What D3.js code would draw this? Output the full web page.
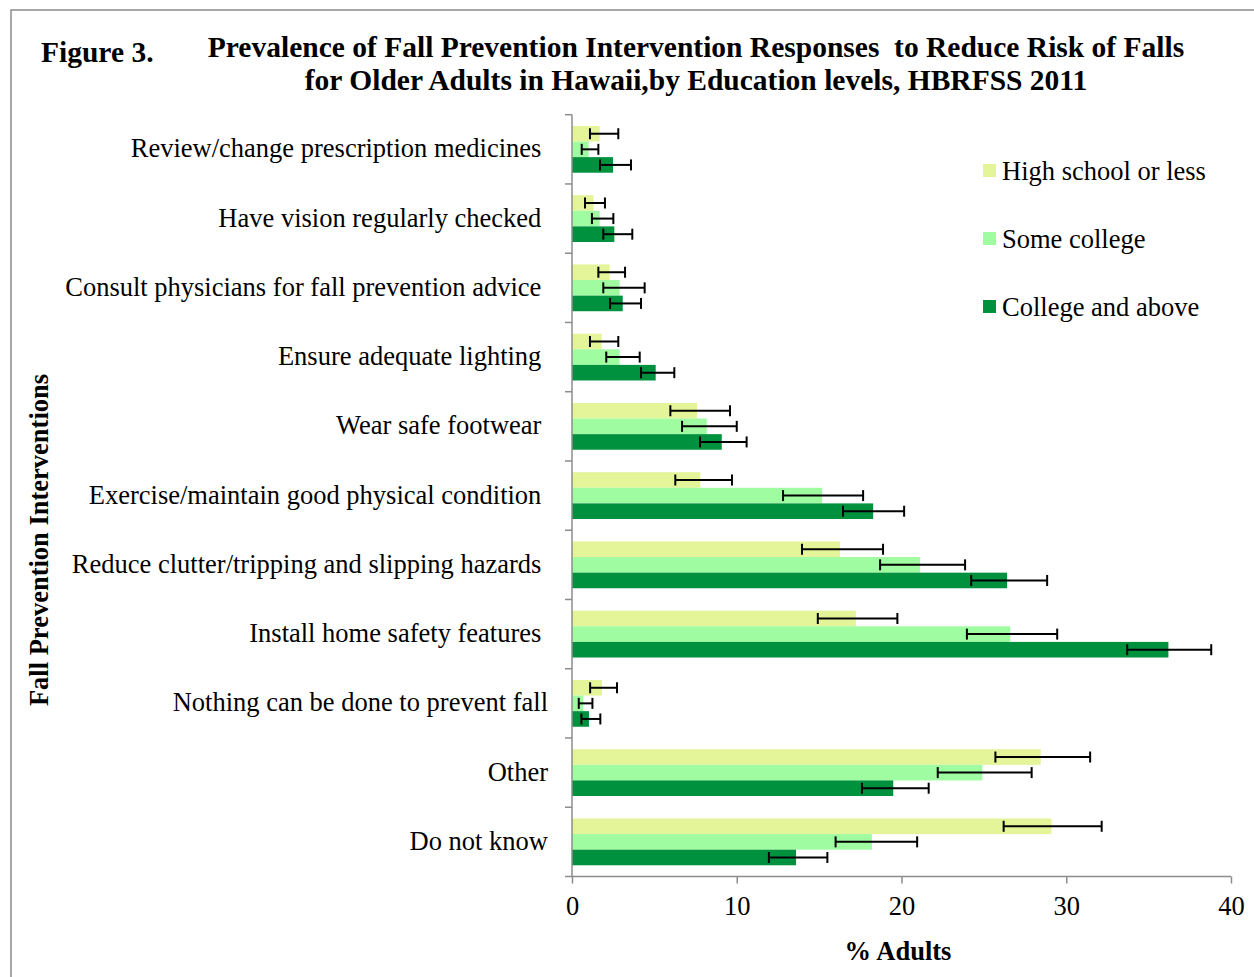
<!DOCTYPE html>
<html>
<head>
<meta charset="utf-8">
<script src="https://cdn.jsdelivr.net/npm/d3@7"></script>
<style>
  body { margin: 0; background: #fff; }
  svg text { font-family: "Liberation Serif", "Times New Roman", serif; fill: #000; }
</style>
</head>
<body>
<div id="chart"></div>
<script>
// categories (trailing space kept as in the source sheet)
var categories = [
  "Review/change prescription medicines ",
  "Have vision regularly checked ",
  "Consult physicians for fall prevention advice ",
  "Ensure adequate lighting ",
  "Wear safe footwear ",
  "Exercise/maintain good physical condition ",
  "Reduce clutter/tripping and slipping hazards ",
  "Install home safety features ",
  "Nothing can be done to prevent fall",
  "Other",
  "Do not know"
];
var series = ["High school or less", "Some college", "College and above"];
var colors = ["#e4f499", "#9ffca1", "#00913f"];

// percent of adults, per series (same order as categories)
var highSchool  = [1.68, 1.30, 2.29, 1.80, 7.59, 7.79, 16.27, 17.23, 1.82, 28.45, 29.1];
var someCollege = [1.01, 1.68, 2.89, 2.89, 8.18, 15.18, 21.13, 26.6, 0.68, 24.9, 18.2];
var collegeUp   = [2.49, 2.57, 3.08, 5.08, 9.09, 18.28, 26.41, 36.2, 1.03, 19.5, 13.6];

// 95% CI low / high
var hsLow  = [1.09, 0.79, 1.60, 1.09, 5.97, 6.27, 13.96, 14.92, 1.10, 25.7, 26.2];
var hsHigh = [2.81, 2.00, 3.22, 2.81, 9.59, 9.71, 18.88, 19.75, 2.73, 31.45, 32.15];
var scLow  = [0.59, 1.21, 1.90, 2.08, 6.68, 12.81, 18.70, 23.97, 0.41, 22.2, 16.0];
var scHigh = [1.60, 2.51, 4.41, 4.11, 10.00, 17.67, 23.86, 29.45, 1.24, 27.9, 20.95];
var cuLow  = [1.70, 1.90, 2.31, 4.19, 7.77, 16.45, 24.23, 33.7, 0.57, 17.6, 11.95];
var cuHigh = [3.58, 3.66, 4.19, 6.21, 10.60, 20.16, 28.84, 38.8, 1.72, 21.65, 15.5];

var xTicks = [0, 10, 20, 30, 40];

var rows = categories.map(function(c, i) {
  return {
    cat: c,
    vals: [
      {s: series[0], v: highSchool[i],  lo: hsLow[i], hi: hsHigh[i]},
      {s: series[1], v: someCollege[i], lo: scLow[i], hi: scHigh[i]},
      {s: series[2], v: collegeUp[i],   lo: cuLow[i], hi: cuHigh[i]}
    ]
  };
});

var width = 1254, height = 977;
var svg = d3.select("#chart").append("svg")
  .attr("width", width).attr("height", height);

// frame (cut off at right and bottom)
svg.append("path")
  .attr("d", "M11," + (height + 5) + "V10H" + (width + 5))
  .attr("fill", "none").attr("stroke", "#8c8c8c").attr("stroke-width", 1.5);

var x = d3.scaleLinear().domain([0, 40]).range([572, 1231]);
var y0 = d3.scaleBand().domain(categories).range([114.7, 876.5]).padding(0);
var y1 = d3.scaleBand().domain(series).range([0, y0.bandwidth()])
  .paddingInner(0).paddingOuter(0.72);
var color = d3.scaleOrdinal().domain(series).range(colors);

// bars
var grp = svg.append("g").selectAll("g")
  .data(rows).join("g")
  .attr("transform", d => "translate(0," + y0(d.cat) + ")");

grp.selectAll("rect")
  .data(d => d.vals).join("rect")
  .attr("x", x(0))
  .attr("y", d => y1(d.s))
  .attr("width", d => x(d.v) - x(0))
  .attr("height", y1.bandwidth())
  .attr("fill", d => color(d.s));

// error bars
var err = grp.selectAll("g.err")
  .data(d => d.vals).join("g").attr("class", "err")
  .attr("transform", d => "translate(0," + (y1(d.s) + y1.bandwidth() / 2) + ")");
err.append("line")
  .attr("x1", d => x(d.lo)).attr("x2", d => x(d.hi))
  .attr("stroke", "#000").attr("stroke-width", 2);
err.append("line")
  .attr("x1", d => x(d.lo)).attr("x2", d => x(d.lo))
  .attr("y1", -5.5).attr("y2", 5.5)
  .attr("stroke", "#000").attr("stroke-width", 2);
err.append("line")
  .attr("x1", d => x(d.hi)).attr("x2", d => x(d.hi))
  .attr("y1", -5.5).attr("y2", 5.5)
  .attr("stroke", "#000").attr("stroke-width", 2);

// y axis (category boundaries as ticks)
var yAx = svg.append("g");
yAx.append("line")
  .attr("x1", x(0)).attr("x2", x(0))
  .attr("y1", y0.range()[0]).attr("y2", y0.range()[1])
  .attr("stroke", "#8c8c8c").attr("stroke-width", 1.5);
var bounds = categories.map(c => y0(c)).concat([y0.range()[1]]);
yAx.selectAll("line.tk")
  .data(bounds).join("line").attr("class", "tk")
  .attr("x1", x(0) - 7).attr("x2", x(0))
  .attr("y1", d => d).attr("y2", d => d)
  .attr("stroke", "#8c8c8c").attr("stroke-width", 1.5);
yAx.selectAll("text")
  .data(categories).join("text")
  .attr("x", 548)
  .attr("y", d => y0(d) + y0.bandwidth() / 2 + 8)
  .attr("text-anchor", "end")
  .style("white-space", "pre")
  .style("font-size", "26.5px")
  .text(d => d);

// x axis
var xAxis = d3.axisBottom(x).tickValues(xTicks).tickSize(7).tickPadding(13);
var xg = svg.append("g")
  .attr("transform", "translate(0," + y0.range()[1] + ")")
  .call(xAxis);
xg.select(".domain").attr("stroke", "#8c8c8c").attr("stroke-width", 1.5)
  .attr("d", "M" + x(0) + ",0H" + x(40));
xg.selectAll(".tick line").attr("stroke", "#8c8c8c").attr("stroke-width", 1.5);
xg.selectAll(".tick text")
  .style("font-family", "Liberation Serif, serif")
  .style("font-size", "26.5px").attr("fill", "#000");

svg.append("text")
  .attr("x", 898).attr("y", 960)
  .attr("text-anchor", "middle")
  .style("font-size", "26.5px").style("font-weight", "bold")
  .text("% Adults");

svg.append("text")
  .attr("transform", "translate(48,540) rotate(-90)")
  .attr("text-anchor", "middle")
  .style("font-size", "26.5px").style("font-weight", "bold")
  .text("Fall Prevention Interventions");

// legend
var leg = svg.append("g").selectAll("g")
  .data(series).join("g")
  .attr("transform", (d, i) => "translate(983," + (171 + i * 68) + ")");
leg.append("rect")
  .attr("x", 0).attr("y", -7).attr("width", 13).attr("height", 13)
  .attr("fill", d => color(d));
leg.append("text")
  .attr("x", 19).attr("y", 9)
  .style("font-size", "26.5px")
  .text(d => d);

// titles
svg.append("text")
  .attr("x", 41).attr("y", 62)
  .style("font-size", "29.5px").style("font-weight", "bold")
  .text("Figure 3.");
svg.append("text")
  .attr("x", 696).attr("y", 57)
  .attr("text-anchor", "middle")
  .style("white-space", "pre")
  .style("font-size", "29.5px").style("font-weight", "bold")
  .text("Prevalence of Fall Prevention Intervention Responses  to Reduce Risk of Falls");
svg.append("text")
  .attr("x", 696).attr("y", 90)
  .attr("text-anchor", "middle")
  .style("font-size", "29.5px").style("font-weight", "bold")
  .text("for Older Adults in Hawaii,by Education levels, HBRFSS 2011");
</script>
</body>
</html>
